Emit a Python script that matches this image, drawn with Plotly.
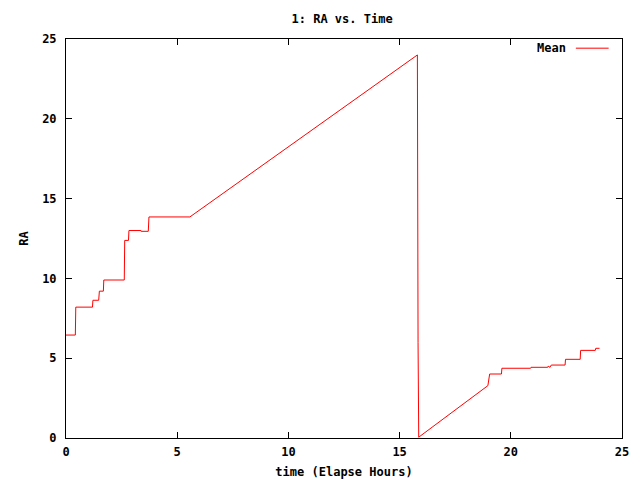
import plotly.graph_objects as go

title_text = "1: RA vs. Time"
x_label = "time (Elapse Hours)"
y_label = "RA"
series_name = "Mean"

time_hours = [0.0, 0.42, 0.44, 1.19, 1.21, 1.47, 1.5, 1.68, 1.7, 2.62, 2.64,
              2.81, 2.83, 3.37, 3.38, 3.7, 3.73, 5.57, 15.8, 15.805, 15.83,
              15.86, 18.97, 19.05, 19.58, 19.6, 20.89, 20.91, 21.66, 21.68,
              21.76, 21.82, 22.44, 22.46, 23.12, 23.14, 23.8, 23.82, 23.99]
ra_mean = [6.45, 6.45, 8.2, 8.2, 8.63, 8.63, 9.2, 9.2, 9.9, 9.9, 12.38,
           12.38, 13.0, 13.0, 12.95, 12.95, 13.85, 13.85, 24.0, 18.0, 6.0,
           0.05, 3.28, 4.01, 4.01, 4.37, 4.37, 4.43, 4.43, 4.5,
           4.43, 4.57, 4.57, 4.93, 4.93, 5.49, 5.49, 5.62, 5.62]

x_ticks = [0, 5, 10, 15, 20, 25]
y_ticks = [0, 5, 10, 15, 20, 25]

FONT = dict(family="DejaVu Sans Mono", size=12, color="black", weight="bold")

fig = go.Figure()
fig.add_trace(go.Scatter(x=time_hours, y=ra_mean, mode="lines", name=series_name,
                         line=dict(color="#ff0000", width=1), showlegend=False))

axis_common = dict(showline=True, linecolor="black", linewidth=1, mirror="ticks",
                   ticks="inside", ticklen=6, tickcolor="black", showgrid=False,
                   zeroline=False, tickfont=FONT, automargin=False)
fig.update_xaxes(range=[0, 25], tickvals=x_ticks, ticklabelstandoff=3, **axis_common,
                 title=dict(text=x_label, font=FONT, standoff=9))
fig.update_yaxes(range=[0, 25], tickvals=y_ticks, ticklabelstandoff=6, **axis_common,
                 title=dict(text=y_label, font=FONT, standoff=10))

# gnuplot-style key: text then line sample, top right
fig.add_annotation(x=0.903, y=0.977, xref="paper", yref="paper", text=series_name,
                   showarrow=False, xanchor="right", yanchor="middle", font=FONT)
fig.add_shape(type="line", xref="paper", yref="paper", x0=0.917, x1=0.976,
              y0=0.977, y1=0.977, line=dict(color="#ff0000", width=1))

# page body has an 8px margin, so figure coordinates are offset by 8px
fig.update_layout(
    width=640, height=480,
    margin=dict(l=58, r=26, t=31, b=50, autoexpand=False),
    paper_bgcolor="white", plot_bgcolor="white",
    title=dict(text=title_text, font=FONT, x=0.522, xanchor="center", y=0.977,
               yanchor="middle", automargin=False),
)

fig.write_html("out.html")
